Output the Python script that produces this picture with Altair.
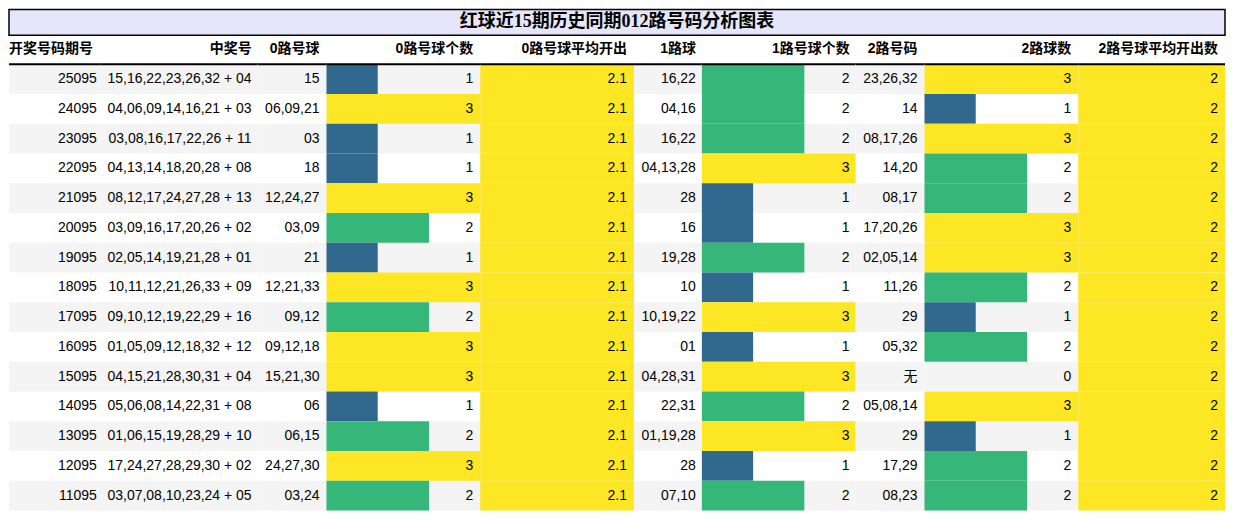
import altair as alt
import pandas as pd

title_text = "红球近15期历史同期012路号码分析图表"
headers = ["开奖号码期号", "中奖号", "0路号球", "0路号球个数", "0路号球平均开出",
           "1路球", "1路号球个数", "2路号码", "2路球数", "2路号球平均开出数"]

periods = ["25095", "24095", "23095", "22095", "21095", "20095", "19095", "18095",
           "17095", "16095", "15095", "14095", "13095", "12095", "11095"]
draws = ["15,16,22,23,26,32 + 04", "04,06,09,14,16,21 + 03", "03,08,16,17,22,26 + 11",
         "04,13,14,18,20,28 + 08", "08,12,17,24,27,28 + 13", "03,09,16,17,20,26 + 02",
         "02,05,14,19,21,28 + 01", "10,11,12,21,26,33 + 09", "09,10,12,19,22,29 + 16",
         "01,05,09,12,18,32 + 12", "04,15,21,28,30,31 + 04", "05,06,08,14,22,31 + 08",
         "01,06,15,19,28,29 + 10", "17,24,27,28,29,30 + 02", "03,07,08,10,23,24 + 05"]
road0_balls = ["15", "06,09,21", "03", "18", "12,24,27", "03,09", "21", "12,21,33",
               "09,12", "09,12,18", "15,21,30", "06", "06,15", "24,27,30", "03,24"]
road0_count = [1, 3, 1, 1, 3, 2, 1, 3, 2, 3, 3, 1, 2, 3, 2]
road0_avg = [2.1, 2.1, 2.1, 2.1, 2.1, 2.1, 2.1, 2.1, 2.1, 2.1, 2.1, 2.1, 2.1, 2.1, 2.1]
road1_balls = ["16,22", "04,16", "16,22", "04,13,28", "28", "16", "19,28", "10",
               "10,19,22", "01", "04,28,31", "22,31", "01,19,28", "28", "07,10"]
road1_count = [2, 2, 2, 3, 1, 1, 2, 1, 3, 1, 3, 2, 3, 1, 2]
road2_balls = ["23,26,32", "14", "08,17,26", "14,20", "08,17", "17,20,26", "02,05,14",
               "11,26", "29", "05,32", "无", "05,08,14", "29", "17,29", "08,23"]
road2_count = [3, 1, 3, 2, 2, 3, 3, 2, 1, 2, 0, 3, 1, 2, 2]
road2_avg = [2, 2, 2, 2, 2, 2, 2, 2, 2, 2, 2, 2, 2, 2, 2]

df = pd.DataFrame({
    "period": periods, "draw": draws,
    "b0": road0_balls, "n0": road0_count, "a0": road0_avg,
    "b1": road1_balls, "n1": road1_count,
    "b2": road2_balls, "n2": road2_count, "a2": road2_avg,
})
df["stripe"] = [i % 2 == 0 for i in range(len(df))]
one = pd.DataFrame({"k": [0]})

SANS = "'Liberation Sans', Arial, 'Noto Sans CJK SC', sans-serif"
SERIF = "'Liberation Serif', 'Noto Sans CJK SC', serif"
VIRIDIS = ["#440154", "#31688e", "#35b779", "#fde725"]

widths = [92, 157, 69, 154, 154, 68, 154, 69, 154, 147]
pads = [4, 6, 7, 7, 7, 6, 6, 7, 7, 7]
head_pads = [8, 6, 7, 7, 7, 6, 6, 7, 7, 7]
H = 447

y_enc = alt.Y("period:N", sort=periods, axis=None,
              scale=alt.Scale(paddingInner=0, paddingOuter=0))


def panel(i, text_field, text_type="N", fmt=None, bar_field=None):
    w = widths[i]
    base = alt.Chart(df).encode(y=y_enc)
    layers = [base.transform_filter("datum.stripe").mark_rect(color="#f4f4f4", strokeWidth=0)]
    if bar_field is not None:
        mx = float(df[bar_field].max())
        layers.append(
            base.mark_bar(strokeWidth=0).encode(
                x=alt.X(f"{bar_field}:Q", axis=None,
                        scale=alt.Scale(domain=[0, mx], nice=False, zero=True)),
                color=alt.Color(f"{bar_field}:Q", legend=None,
                                scale=alt.Scale(domain=[0, mx / 3, 2 * mx / 3, mx],
                                                range=VIRIDIS)),
            )
        )
    if fmt is not None:
        txt = alt.Text(f"{text_field}:{text_type}", format=fmt)
    else:
        txt = alt.Text(f"{text_field}:{text_type}")
    layers.append(
        base.mark_text(align="right", baseline="middle", font=SANS, fontSize=14,
                       color="#000000").encode(x=alt.value(w - pads[i]), text=txt)
    )
    layers.append(
        alt.Chart(one).mark_rect(color="black", strokeWidth=0).encode(
            x=alt.value(0), x2=alt.value(w), y=alt.value(-1), y2=alt.value(1))
    )
    return alt.layer(*layers).properties(
        width=w, height=H,
        title=alt.TitleParams(headers[i], anchor="end", frame="group", dx=-head_pads[i],
                              font=SANS, fontSize=14, fontWeight="bold",
                              color="black", offset=7),
    )


panels = [
    panel(0, "period"),
    panel(1, "draw"),
    panel(2, "b0"),
    panel(3, "n0", "Q", "d", "n0"),
    panel(4, "a0", "Q", ".1f", "a0"),
    panel(5, "b1"),
    panel(6, "n1", "Q", "d", "n1"),
    panel(7, "b2"),
    panel(8, "n2", "Q", "d", "n2"),
    panel(9, "a2", "Q", "d", "a2"),
]

table = alt.hconcat(*panels, spacing=0).resolve_scale(
    x="independent", color="independent")

W = sum(widths)
title_chart = alt.Chart(pd.DataFrame({"t": [title_text]})).mark_text(
    font=SERIF, fontSize=18, fontWeight="bold", color="black", baseline="middle"
).encode(text="t:N", x=alt.value(W / 2), y=alt.value(13)).properties(
    width=W, height=26,
    view=alt.ViewBackground(fill="#e6e6fa", stroke="black", strokeWidth=1.5),
)

chart = alt.vconcat(title_chart, table, spacing=6).properties(
    padding=0, background="white"
).configure_view(strokeWidth=0)

chart.save("out.html", embed_options={"renderer": "svg", "actions": False})
